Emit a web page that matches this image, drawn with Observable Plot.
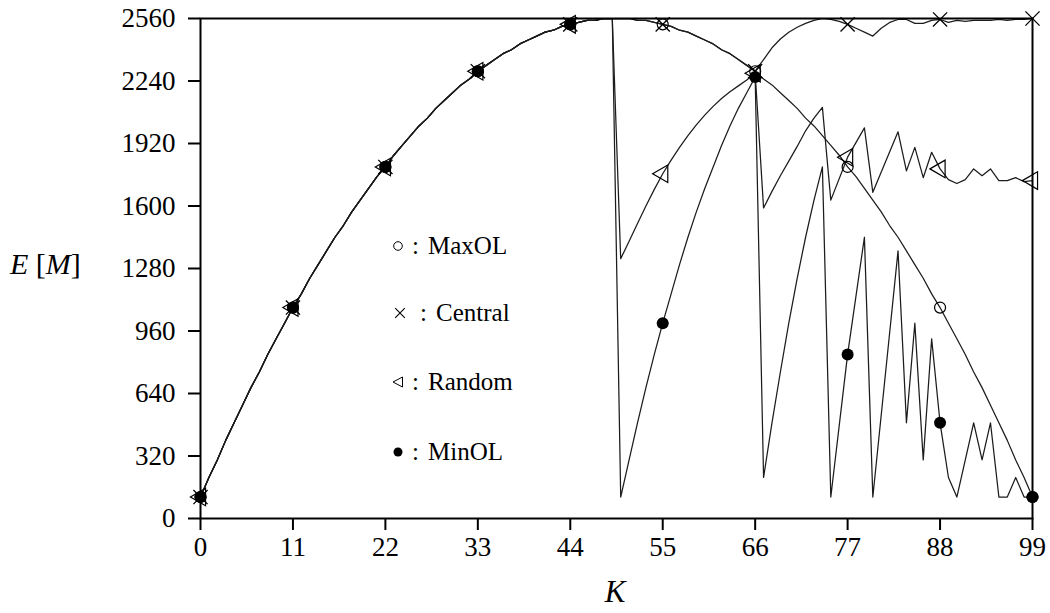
<!DOCTYPE html>
<html>
<head>
<meta charset="utf-8">
<script src="https://cdn.jsdelivr.net/npm/d3@7"></script>
<script src="https://cdn.jsdelivr.net/npm/@observablehq/plot@0.6"></script>
<style>
  html, body { margin: 0; padding: 0; background: #fff; }
  #chart { width: 1050px; height: 613px; }
</style>
</head>
<body>
<div id="chart"></div>
<script>
// Axis ticks
const xTicks = [0, 11, 22, 33, 44, 55, 66, 77, 88, 99];
const yTicks = [0, 320, 640, 960, 1280, 1600, 1920, 2240, 2560];

// K index shared by the smooth series
const K = d3.range(0, 100);

// MaxOL: E[M] for every K
const maxolE = [
  110, 210, 300, 400, 490, 580, 670, 750, 840, 920,
  1000, 1080, 1150, 1230, 1300, 1370, 1440, 1500, 1570, 1630,
  1690, 1750, 1800, 1860, 1910, 1960, 2010, 2050, 2100, 2140,
  2180, 2220, 2250, 2290, 2320, 2350, 2380, 2400, 2430, 2450,
  2470, 2490, 2500, 2520, 2530, 2540, 2550, 2550, 2560, 2560,
  2560, 2560, 2550, 2550, 2540, 2530, 2520, 2500, 2490, 2470,
  2450, 2430, 2400, 2380, 2350, 2320, 2290, 2250, 2220, 2180,
  2140, 2100, 2050, 2010, 1960, 1910, 1860, 1800, 1750, 1690,
  1630, 1570, 1500, 1440, 1370, 1300, 1230, 1150, 1080, 1000,
  920, 840, 750, 670, 580, 490, 400, 300, 210, 110
];

// Central: follows MaxOL up to K = 66, then these values for K = 67..99
const centralTailK = [67, 68, 69, 70, 71, 72, 73, 74, 75, 76, 77, 78, 79, 80, 81, 82, 83,
  84, 85, 86, 87, 88, 89, 90, 91, 92, 93, 94, 95, 96, 97, 98, 99];
const centralTailE = [2350, 2410, 2455, 2490, 2515, 2535, 2550, 2560, 2555, 2545, 2530, 2510, 2490, 2470, 2510, 2540, 2555,
  2555, 2535, 2535, 2550, 2555, 2540, 2550, 2545, 2550, 2550, 2550, 2555, 2550, 2555, 2555, 2560];

// Random: follows MaxOL up to K = 49, then these values
const randomTailK = [50, 51, 52, 53, 54, 55, 56, 57, 58, 59, 60, 61, 62, 63, 64, 65, 66,
  67, 68, 69, 70, 71, 72, 73, 74, 75, 77, 79, 80, 83, 84, 85, 86, 87, 88, 89, 90, 91, 92, 93, 94, 95, 96, 97, 98, 99];
const randomTailE = [1330, 1420, 1510, 1600, 1685, 1765, 1835, 1900, 1960, 2015, 2065, 2110, 2150, 2185, 2215, 2245, 2280,
  1590, 1675, 1755, 1830, 1905, 1985, 2050, 2105, 1630, 1850, 2000, 1670, 1980, 1780, 1900, 1745, 1875, 1790, 1735, 1715, 1735, 1790, 1755, 1790, 1730, 1730, 1745, 1725, 1730];

// MinOL: follows MaxOL up to K = 49, then these values
const minolTailK = [50, 51, 52, 53, 54, 55, 56, 57, 58, 59, 60, 61, 62, 63, 64, 65, 66,
  67, 68, 69, 70, 71, 72, 73, 74, 75, 77, 79, 80, 83, 84, 85, 86, 87, 88, 89, 90, 92, 93, 94, 95, 96, 97, 98, 99];
const minolTailE = [110, 300, 490, 670, 840, 1000, 1150, 1300, 1440, 1570, 1690, 1800, 1910, 2010, 2100, 2180, 2260,
  210, 490, 750, 1000, 1230, 1440, 1630, 1800, 110, 840, 1440, 110, 1370, 490, 1000, 300, 920, 490, 210, 110, 490, 300, 490, 110, 110, 210, 110, 110];

// Build the long table
const rows = [];
K.forEach((k, i) => rows.push({series: "MaxOL", k, e: maxolE[i]}));
K.slice(0, 67).forEach((k, i) => rows.push({series: "Central", k, e: maxolE[i]}));
centralTailK.forEach((k, i) => rows.push({series: "Central", k, e: centralTailE[i]}));
K.slice(0, 50).forEach((k, i) => rows.push({series: "Random", k, e: maxolE[i]}));
randomTailK.forEach((k, i) => rows.push({series: "Random", k, e: randomTailE[i]}));
K.slice(0, 50).forEach((k, i) => rows.push({series: "MinOL", k, e: maxolE[i]}));
minolTailK.forEach((k, i) => rows.push({series: "MinOL", k, e: minolTailE[i]}));

const marked = (name) => rows.filter(d => d.series === name && d.k % 11 === 0);

const SERIF = "'Liberation Serif', 'Times New Roman', serif";
const INK = "#1c1c1c";

const chart = Plot.plot({
  width: 1050,
  height: 613,
  marginLeft: 200,
  marginRight: 18,
  marginTop: 18,
  marginBottom: 95,
  style: {fontFamily: SERIF, fontSize: "27px", color: "black", background: "white"},
  x: {domain: [0, 99]},
  y: {domain: [0, 2560]},
  marks: [
    Plot.axisX({ticks: xTicks, tickSize: 12, tickPadding: 6, strokeWidth: 2, label: null, tickFormat: d3.format("d")}),
    Plot.axisY({ticks: yTicks, tickSize: 12, tickPadding: 13, strokeWidth: 2, label: null, tickFormat: d3.format("d")}),
    Plot.line(rows, {x: "k", y: "e", z: "series", stroke: INK, strokeWidth: 1.25}),
    Plot.dot(marked("MaxOL"), {x: "k", y: "e", r: 5.5, stroke: "black", strokeWidth: 1.2, fill: "none"}),
    Plot.dot(marked("Random"), {x: "k", y: "e", symbol: "triangle", r: 6.5, rotate: -90, stroke: "black", strokeWidth: 1.2, fill: "none"}),
    Plot.dot(marked("Central"), {x: "k", y: "e", symbol: "times", r: 6.5, stroke: "black", strokeWidth: 1.3}),
    Plot.dot(marked("MinOL"), {x: "k", y: "e", r: 6, fill: "black", stroke: "none"}),
    Plot.frame({stroke: "black", strokeWidth: 2})
  ]
});

document.getElementById("chart").append(chart);
const svg = d3.select(chart);

// Axis titles
const yTitle = svg.append("text")
  .attr("x", 10).attr("y", 274)
  .attr("text-anchor", "start")
  .attr("font-family", SERIF).attr("font-size", 30).attr("fill", "black");
yTitle.append("tspan").attr("font-style", "italic").text("E");
yTitle.append("tspan").text(" [");
yTitle.append("tspan").attr("font-style", "italic").text("M");
yTitle.append("tspan").text("]");

svg.append("text")
  .attr("x", 615).attr("y", 602)
  .attr("text-anchor", "middle")
  .attr("font-family", SERIF).attr("font-size", 31).attr("font-style", "italic")
  .attr("fill", "black")
  .text("K");

// Legend
const legend = [
  {name: "MaxOL", cy: 246, colon: 412},
  {name: "Central", cy: 313, colon: 420},
  {name: "Random", cy: 382, colon: 412},
  {name: "MinOL", cy: 452, colon: 412}
];
const lg = svg.append("g")
  .attr("text-anchor", "start")
  .attr("font-family", SERIF).attr("font-size", 25).attr("fill", "black");
legend.forEach((d) => {
  const cx = 398;
  if (d.name === "MaxOL") {
    lg.append("circle").attr("cx", cx).attr("cy", d.cy).attr("r", 4.3).attr("fill", "none").attr("stroke", "black").attr("stroke-width", 1);
  } else if (d.name === "Central") {
    const s = 4.8, c = cx + 2;
    lg.append("path").attr("d", `M${c - s},${d.cy - s}L${c + s},${d.cy + s}M${c - s},${d.cy + s}L${c + s},${d.cy - s}`)
      .attr("stroke", "black").attr("stroke-width", 1.1);
  } else if (d.name === "Random") {
    lg.append("path").attr("d", `M${cx - 5},${d.cy}L${cx + 4.5},${d.cy - 5}L${cx + 4.5},${d.cy + 5}Z`)
      .attr("fill", "none").attr("stroke", "black").attr("stroke-width", 1);
  } else {
    lg.append("circle").attr("cx", cx).attr("cy", d.cy).attr("r", 4.5).attr("fill", "black");
  }
  lg.append("text").attr("x", d.colon).attr("y", d.cy + 7.5).text(":");
  lg.append("text").attr("x", d.colon + 16).attr("y", d.cy + 7.5).text(d.name);
});
</script>
</body>
</html>
